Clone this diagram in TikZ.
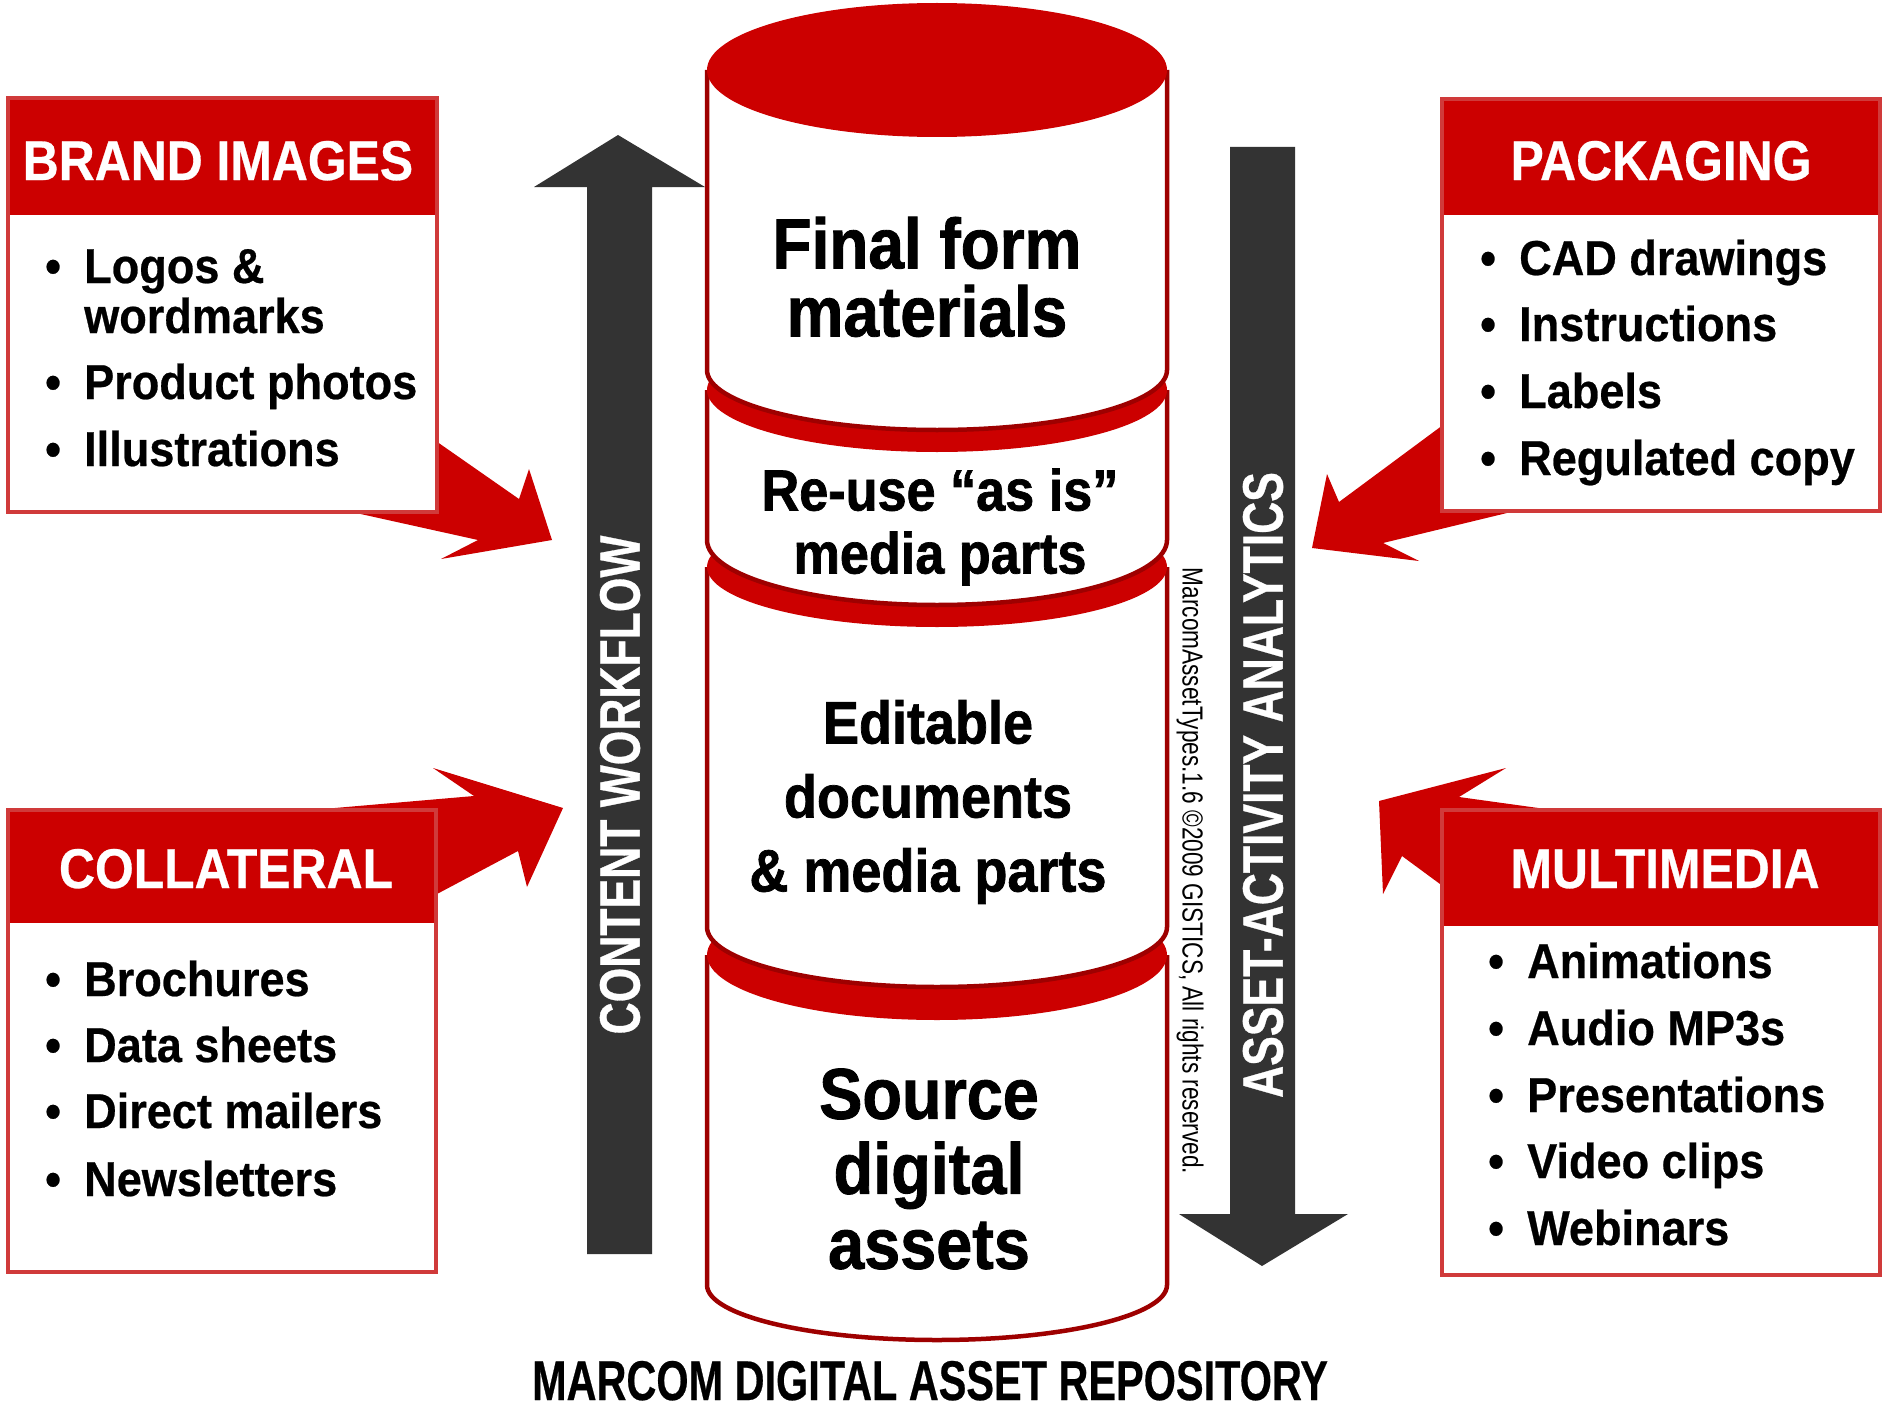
\documentclass[tikz,border=0pt]{standalone}
\usepackage{fontspec}
\setmainfont{Liberation Sans}
\newfontfamily\listfont[FakeStretch=0.92, FakeBold=0.5]{Liberation Sans}
\newfontfamily\headfont[FakeStretch=0.89, FakeBold=0.5]{Liberation Sans}
\newfontfamily\drumfont[FakeStretch=0.9, FakeBold=1.2]{Liberation Sans}
\newfontfamily\titlefont[FakeStretch=0.74, FakeBold=0.4]{Liberation Sans}
\newfontfamily\barfont[FakeStretch=0.78, FakeBold=0.5]{Liberation Sans}
\newfontfamily\notefont[FakeStretch=0.78]{Liberation Sans}

\definecolor{mred}{HTML}{CC0000}
\definecolor{rimred}{HTML}{9E0000}
\definecolor{boxrim}{HTML}{D03A3A}
\definecolor{darkbar}{HTML}{333333}

\newcommand\blt{\makebox[39pt][l]{•}}
\newcommand\bltgap{\hspace*{39pt}}

% one drum of the repository cylinder:
% #1 top centre y, #2 top y radius, #3 side bottom y, #4 bottom y radius
\newcommand\drumseg[4]{%
  \pgfmathsetmacro\segmid{#3+0.5523*#4}%
  \pgfmathsetmacro\seglow{#3+#4}%
  \fill[white] (707,#1) -- (707,#3) .. controls (707,\segmid) and (810,\seglow) .. (937,\seglow)
      .. controls (1064,\seglow) and (1167,\segmid) .. (1167,#3) -- (1167,#1) -- cycle;
  \draw[rim] (707,#1) -- (707,#3) .. controls (707,\segmid) and (810,\seglow) .. (937,\seglow)
      .. controls (1064,\seglow) and (1167,\segmid) .. (1167,#3) -- (1167,#1);
  \fill[mred] (937,#1) ellipse [x radius=230, y radius=#2];
}

\begin{document}
\begin{tikzpicture}[x=1pt, y=-1pt,
  swoosh/.style={fill=mred},
  panel/.style={draw=boxrim, line width=3.5pt},
  band/.style={fill=mred},
  headtext/.style={text=white, anchor=base, inner sep=0,
    font=\headfont\fontsize{56}{60}\selectfont\bfseries},
  itemtext/.style={anchor=base west, inner sep=0,
    font=\listfont\fontsize{49}{50}\selectfont\bfseries},
  flowbar/.style={fill=darkbar},
  flowtext/.style={text=white, rotate=90, inner sep=0,
    font=\barfont\fontsize{57}{60}\selectfont\bfseries},
  rim/.style={draw=rimred, line width=4.5pt},
  drumtext/.style={align=center, inner sep=0},
]
\useasboundingbox (0,0) rectangle (1890,1410);

% red swoosh arrows feeding the repository
\fill[swoosh] (400,416) -- (519,499) -- (529,469) -- (552,540) -- (441,559)
  -- (478,540) -- (320,505) -- cycle;
\fill[swoosh] (300,811) -- (474,796) -- (433,768) -- (563,808) -- (527,887)
  -- (518,851) -- (437,894) -- (300,900) -- cycle;
\fill[swoosh] (1470,405) -- (1339,502) -- (1327,474) -- (1312,548) -- (1419,561)
  -- (1383,543) -- (1540,505) -- cycle;
\fill[swoosh] (1560,811) -- (1459,797) -- (1506,768) -- (1379,801) -- (1383,894)
  -- (1402,856) -- (1440,884) -- (1560,900) -- cycle;

% category panels
\fill[white] (8,98) rectangle (437,512);
\fill[band] (8,98) rectangle (437,215);
\draw[panel] (8,98) rectangle (437,512);
\fill[white] (1442,99) rectangle (1880,511);
\fill[band] (1442,99) rectangle (1880,215);
\draw[panel] (1442,99) rectangle (1880,511);
\fill[white] (8,810) rectangle (436,1272);
\fill[band] (8,810) rectangle (436,923);
\draw[panel] (8,810) rectangle (436,1272);
\fill[white] (1442,810) rectangle (1880,1275);
\fill[band] (1442,810) rectangle (1880,926);
\draw[panel] (1442,810) rectangle (1880,1275);

\node[headtext] (brandhead) at (218,180) {BRAND IMAGES};
\node[headtext] (packhead) at (1661,180) {PACKAGING};
\node[headtext] (collhead) at (226,888) {COLLATERAL};
\node[headtext] (multihead) at (1665,888) {MULTIMEDIA};

\foreach \txt/\yy [count=\i] in {\blt Logos \&/283, \bltgap wordmarks/333,
    \blt Product photos/399, \blt Illustrations/466}
  \node[itemtext] (brand-\i) at (45,\yy) {\txt};
\foreach \txt/\yy [count=\i] in {\blt CAD drawings/275, \blt Instructions/341,
    \blt Labels/408, \blt Regulated copy/475}
  \node[itemtext] (pack-\i) at (1480,\yy) {\txt};
\foreach \txt/\yy [count=\i] in {\blt Brochures/996, \blt Data sheets/1062,
    \blt Direct mailers/1128, \blt Newsletters/1196}
  \node[itemtext] (coll-\i) at (45,\yy) {\txt};
\foreach \txt/\yy [count=\i] in {\blt Animations/978, \blt Audio MP3s/1045,
    \blt Presentations/1112, \blt Video clips/1178, \blt Webinars/1245}
  \node[itemtext] (multi-\i) at (1488,\yy) {\txt};

% workflow and analytics bars
\fill[flowbar] (587,1254) -- (587,187) -- (534,187) -- (618,135) -- (705,187)
  -- (652,187) -- (652,1254) -- cycle;
\fill[flowbar] (1230,147) -- (1230,1214) -- (1179,1214) -- (1262,1266) -- (1348,1214)
  -- (1295,1214) -- (1295,147) -- cycle;
\node[flowtext] (workflow) at (620,785) {CONTENT WORKFLOW};
\node[flowtext] (analytics) at (1263,785) {ASSET-ACTIVITY ANALYTICS};

% repository cylinder, drawn from the bottom drum upwards
\drumseg{955}{65}{1285}{55}
\drumseg{567}{60}{927}{60}
\drumseg{390}{62}{540}{65}
\drumseg{70}{67}{370}{60}

\node[drumtext, font=\drumfont\fontsize{71}{68}\selectfont\bfseries] (final) at (927,277)
  {Final form\\materials};
\node[drumtext, font=\drumfont\fontsize{58}{63}\selectfont\bfseries] (reuse) at (940,527)
  {Re-use “as is”\\media parts};
\node[drumtext, font=\drumfont\fontsize{60}{74}\selectfont\bfseries] (editable) at (928,802)
  {Editable\\documents\\\& media parts};
\node[drumtext, font=\drumfont\fontsize{72}{75}\selectfont\bfseries] (source) at (929,1169)
  {Source\\digital\\assets};

\node[rotate=-90, inner sep=0, font=\notefont\fontsize{29}{30}\selectfont] (note) at (1190,871)
  {MarcomAssetTypes.1.6 ©2009 GISTICS, All rights reserved.};

\node[anchor=base, inner sep=0, font=\titlefont\fontsize{56}{60}\selectfont\bfseries] (title)
  at (930,1400) {MARCOM DIGITAL ASSET REPOSITORY};
\end{tikzpicture}
\end{document}
